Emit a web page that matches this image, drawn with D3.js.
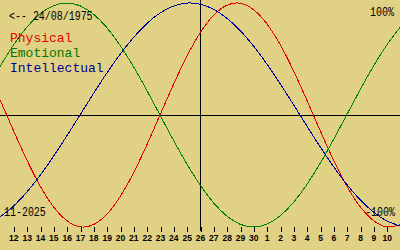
<!DOCTYPE html>
<html>
<head>
<meta charset="utf-8">
<script src="https://cdn.jsdelivr.net/npm/d3@7"></script>
<style>
  html, body { margin: 0; padding: 0; background: #e0d184; }
  svg { display: block; }
  .mono { font-family: "Liberation Mono", monospace; }
</style>
</head>
<body>
<script>
const width = 400;
const height = 250;

// biorhythm values (%), one per day from 11/11/2025 to 11/12/2025
const physical = [13.6, -13.6, -39.8, -63.1, -81.7, -94.2, -99.8, -97.9, -88.8, -73.1, -52.0, -27.0, 0, 27.0, 52.0, 73.1,
  88.8, 97.9, 99.8, 94.2, 81.7, 63.1, 39.8, 13.6, -13.6, -39.8, -63.1, -81.7, -94.2, -99.8, -97.9];
const emotional = [43.4, 62.3, 78.2, 90.1, 97.5, 100, 97.5, 90.1, 78.2, 62.3, 43.4, 22.3, 0, -22.3, -43.4, -62.3,
  -78.2, -90.1, -97.5, -100, -97.5, -90.1, -78.2, -62.3, -43.4, -22.3, 0, 22.3, 43.4, 62.3, 78.2];
const intellectual = [-91.0, -81.5, -69.0, -54.1, -37.2, -18.9, 0, 18.9, 37.2, 54.1, 69.0, 81.5, 91.0, 97.2, 99.9, 99.0,
  94.5, 86.6, 75.6, 61.8, 45.8, 28.2, 9.5, -9.5, -28.2, -45.8, -61.8, -75.6, -86.6, -94.5, -99.0];

const startDay = new Date(2025, 10, 11);
const endDay = new Date(2025, 11, 11);
const today = new Date(2025, 10, 26);
const birthLabel = "<-- 24/08/1975";
const monthLabel = "11-2025";

const series = [
  { name: "Physical", values: physical, color: "#e00000", text: "#e80000" },
  { name: "Emotional", values: emotional, color: "#008000", text: "#007800" },
  { name: "Intellectual", values: intellectual, color: "#0000a0", text: "#000090" },
];

const days = d3.timeDay.range(startDay, d3.timeDay.offset(endDay, 1));

const x = d3.scaleTime().domain([startDay, endDay]).range([0, width]);
const y = d3.scaleLinear().domain([-100, 100]).range([227, 3]);

const svg = d3.select("body").append("svg")
  .attr("width", width)
  .attr("height", height);

svg.append("rect")
  .attr("width", width)
  .attr("height", height)
  .attr("fill", "#e0d184");

// zero line + today line
svg.append("line")
  .attr("x1", 0).attr("x2", width)
  .attr("y1", y(0) + 0.5).attr("y2", y(0) + 0.5)
  .attr("stroke", "#000")
  .attr("shape-rendering", "crispEdges");

svg.append("line")
  .attr("x1", Math.round(x(today)) + 0.5).attr("x2", Math.round(x(today)) + 0.5)
  .attr("y1", 0).attr("y2", 231)
  .attr("stroke", "#000")
  .attr("shape-rendering", "crispEdges");

// curves
const line = d3.line()
  .x((d, i) => x(days[i]))
  .y((d) => y(d))
  .curve(d3.curveNatural);

svg.append("g")
  .selectAll("path")
  .data(series)
  .join("path")
  .attr("d", (d) => line(d.values))
  .attr("fill", "none")
  .attr("stroke", (d) => d.color)
  .attr("stroke-width", 1)
  .attr("shape-rendering", "crispEdges");

// day axis
const tickDays = days.slice(1, days.length - 1);
const axis = svg.append("g")
  .attr("transform", "translate(0,226.5)")
  .call(d3.axisBottom(x).tickValues(tickDays).tickSize(5).tickPadding(3).tickFormat(d3.timeFormat("%-d")));
axis.select(".domain").remove();
axis.selectAll(".tick line")
  .attr("stroke", "#000")
  .attr("shape-rendering", "crispEdges")
  .attr("transform", "translate(0.5,0)");
axis.selectAll(".tick text")
  .attr("fill", "#000")
  .attr("font-family", "Liberation Sans, Arial, sans-serif")
  .attr("font-weight", "bold")
  .attr("font-size", "8.5px");

// small labels
function smallText(str, tx, ty, anchor) {
  svg.append("text")
    .attr("class", "mono")
    .attr("transform", `translate(${tx},${ty}) scale(0.83,1)`)
    .attr("text-anchor", anchor || "start")
    .attr("font-size", "12px")
    .attr("fill", "#000")
    .text(str);
}
smallText(birthLabel, 9, 20);
smallText("100%", 394, 16, "end");
smallText("-100%", 395, 216, "end");
smallText(monthLabel, 4, 216);

// legend
svg.append("g")
  .selectAll("text")
  .data(series)
  .join("text")
  .attr("class", "mono")
  .attr("x", 10)
  .attr("y", (d, i) => 41.5 + i * 15)
  .attr("font-size", "13px")
  .attr("fill", (d) => d.text)
  .text((d) => d.name);
</script>
</body>
</html>
